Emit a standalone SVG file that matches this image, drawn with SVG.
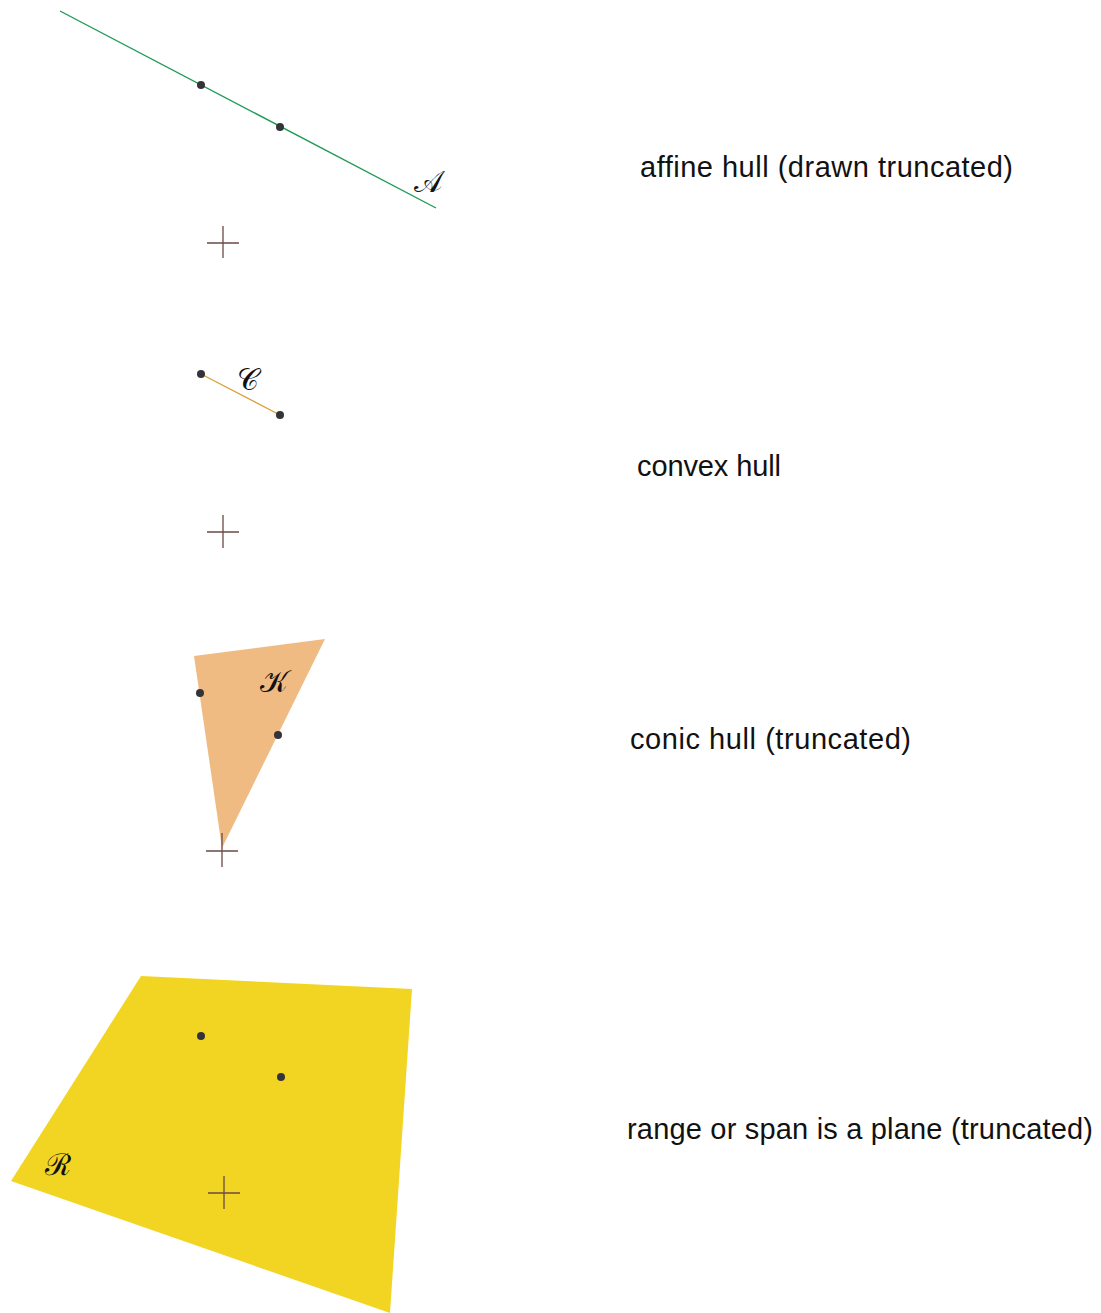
<svg xmlns="http://www.w3.org/2000/svg" width="1101" height="1313" viewBox="0 0 1101 1313">
<style>
.pt{fill:#333338}
.cross{stroke:#6b4a44;stroke-width:1.3;fill:none}
.lbl{font-family:"Liberation Sans","DejaVu Sans",sans-serif;font-size:29px;fill:#111}
.math{font-family:"DejaVu Serif","Liberation Serif",serif;font-size:30px;fill:#111}
</style>
<rect width="1101" height="1313" fill="#fff"/>
<g id="affine">
<line x1="60" y1="11" x2="436" y2="208" stroke="#1f9a55" stroke-width="1.4"/>
<circle class="pt" cx="201" cy="85" r="4"/>
<circle class="pt" cx="280" cy="127" r="4"/>
<text class="math" x="414" y="192">𝒜</text>
<path class="cross" d="M207 243H239M223 226V258"/>
<text class="lbl" x="640" y="177" textLength="373">affine hull (drawn truncated)</text>
</g>
<g id="convex">
<line x1="201" y1="374" x2="280" y2="415" stroke="#d9a03a" stroke-width="1.4"/>
<circle class="pt" cx="201" cy="374" r="4"/>
<circle class="pt" cx="280" cy="415" r="4"/>
<text class="math" x="237" y="390">𝒞</text>
<path class="cross" d="M207 532H239M223 515V548"/>
<text class="lbl" x="637" y="476" textLength="144">convex hull</text>
</g>
<g id="conic">
<polygon points="194,656 325,639 222,848" fill="#f0bb82"/>
<circle class="pt" cx="200" cy="693" r="4"/>
<circle class="pt" cx="278" cy="735" r="4"/>
<text class="math" x="260" y="692">𝒦</text>
<path class="cross" d="M206 851H238M222 833V867"/>
<text class="lbl" x="630" y="749" textLength="281">conic hull (truncated)</text>
</g>
<g id="range">
<polygon points="141,976 412,989 390,1313 11,1181" fill="#f2d523"/>
<circle class="pt" cx="201" cy="1036" r="4"/>
<circle class="pt" cx="281" cy="1077" r="4"/>
<text class="math" x="45" y="1175">ℛ</text>
<path class="cross" d="M208 1193H240M224 1176V1209"/>
<text class="lbl" x="627" y="1139" textLength="466">range or span is a plane (truncated)</text>
</g>
</svg>
